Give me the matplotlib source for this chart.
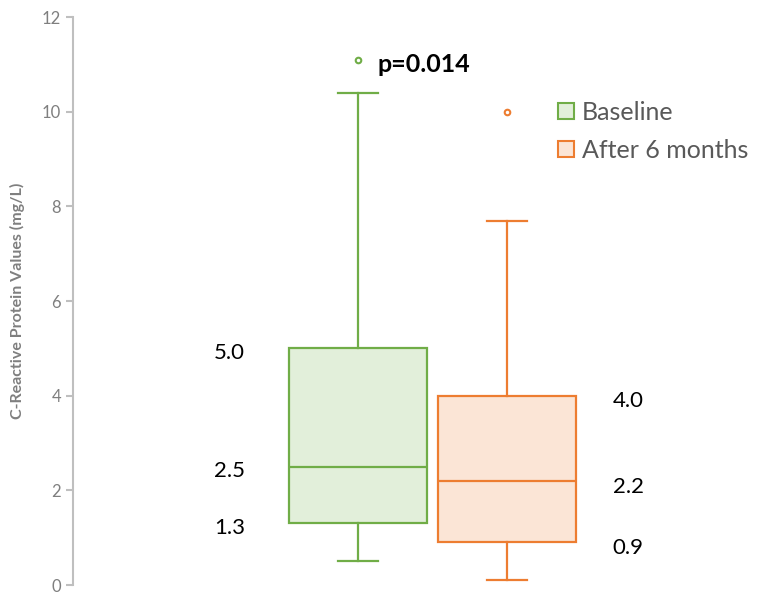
import matplotlib.pyplot as plt
from matplotlib.lines import Line2D

plt.rcParams['font.family'] = ['Lato', 'DejaVu Sans']

groups = ['Baseline', 'After 6 months']
q1 = [1.3, 0.9]
med = [2.5, 2.2]
q3 = [5.0, 4.0]
whislo = [0.5, 0.1]
whishi = [10.4, 7.7]
outliers = [[11.1], [10.0]]
edge_colors = ['#70AD47', '#ED7D31']
fill_colors = ['#E2EFDA', '#FBE5D6']
yticks = [0, 2, 4, 6, 8, 10, 12]

fig = plt.figure(figsize=(7.57, 5.93), dpi=100)
ax = fig.add_axes([73 / 757, 8 / 593, 1 - 73 / 757, 568 / 593])

positions = [1, 2]
for i in range(2):
    stats = [{'med': med[i], 'q1': q1[i], 'q3': q3[i], 'whislo': whislo[i],
              'whishi': whishi[i], 'fliers': outliers[i], 'label': groups[i]}]
    c = edge_colors[i]
    ax.bxp(stats, positions=[positions[i]], widths=0.92, capwidths=0.27,
           patch_artist=True, manage_ticks=False,
           boxprops=dict(facecolor=fill_colors[i], edgecolor=c, linewidth=1.6),
           medianprops=dict(color=c, linewidth=1.6),
           whiskerprops=dict(color=c, linewidth=1.6),
           capprops=dict(color=c, linewidth=1.6),
           flierprops=dict(marker='o', markersize=4, markerfacecolor='none',
                           markeredgecolor=c, markeredgewidth=1.5))

# value labels
for v in [q3[0], med[0], q1[0]]:
    ax.text(positions[0] - 0.76, v - 0.1, f'{v:.1f}', ha='right', va='center',
            fontsize=16, color='black')
for v in [q3[1], med[1], q1[1]]:
    ax.text(positions[1] + 0.71, v - 0.12, f'{v:.1f}', ha='left', va='center',
            fontsize=16, color='black')

ax.text(positions[0] + 0.13, outliers[0][0] - 0.1, 'p=0.014', ha='left',
        va='center', fontsize=18, fontweight='bold', color='black')

ax.set_xlim(-0.913, 2 + 250 / 149)
ax.set_ylim(0, 12)
ax.set_yticks(yticks)
ax.set_xticks([])
for s in ['top', 'right', 'bottom']:
    ax.spines[s].set_visible(False)
ax.spines['left'].set_color('#BFBFBF')
ax.spines['left'].set_linewidth(1.5)
ax.tick_params(axis='y', colors='#BFBFBF', labelcolor='#7F7F7F', labelsize=12,
               length=5, width=1.5)
ax.set_ylabel('C-Reactive Protein Values (mg/L)', fontsize=11.5,
              fontweight='bold', color='#7F7F7F', labelpad=12)

handles = [Line2D([], [], linestyle='none', marker='s', markersize=12,
                  markerfacecolor=fill_colors[i], markeredgecolor=edge_colors[i],
                  markeredgewidth=1.5) for i in range(2)]
leg = ax.legend(handles, groups, loc='upper left',
                bbox_to_anchor=(531 / 757, 1 - 78 / 593),
                bbox_transform=fig.transFigure, frameon=False, fontsize=18,
                handletextpad=0.15, labelspacing=0.6, handlelength=1.0)
for t in leg.get_texts():
    t.set_color('#595959')

fig.savefig('out.png', dpi=100)
